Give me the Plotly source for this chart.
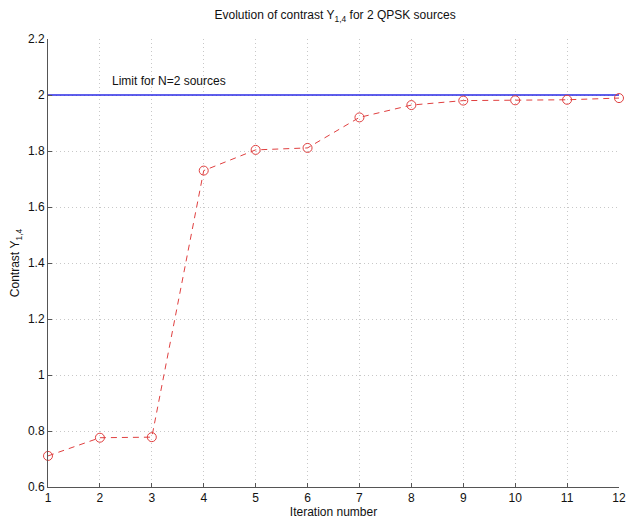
import plotly.graph_objects as go

iterations = [1, 2, 3, 4, 5, 6, 7, 8, 9, 10, 11, 12]
contrast = [0.711, 0.776, 0.778, 1.730, 1.804, 1.811, 1.920, 1.964, 1.980, 1.981, 1.983, 1.989]
limit_x = [1, 12]
limit_y = [2.0, 2.0]
x_ticks = list(range(1, 13))
y_ticks = [0.6, 0.8, 1.0, 1.2, 1.4, 1.6, 1.8, 2.0, 2.2]
y_tick_labels = ["0.6", "0.8", "1", "1.2", "1.4", "1.6", "1.8", "2", "2.2"]

FONT = "Liberation Sans, Arial"

fig = go.Figure()
fig.add_trace(go.Scatter(x=limit_x, y=limit_y, mode="lines",
                         line=dict(color="#2a2ae6", width=1.5), showlegend=False,
                         cliponaxis=False))
fig.add_trace(go.Scatter(x=iterations, y=contrast, mode="lines+markers",
                         line=dict(color="#e04040", width=1, dash="6px,5px"),
                         marker=dict(symbol="circle-open", size=9, color="#e04040",
                                     line=dict(width=1, color="#e04040")),
                         showlegend=False, cliponaxis=False))

fig.add_annotation(x=2.2, y=2.05, text="Limit for N=2 sources", showarrow=False,
                   xanchor="left", yanchor="middle",
                   font=dict(family=FONT, size=12, color="#111"))

axis_common = dict(
    showline=True, linecolor="#555", linewidth=1,
    ticks="inside", ticklen=4, tickcolor="#555",
    showgrid=True, gridcolor="#c8c8c8", griddash="1px,3px", gridwidth=1,
    zeroline=False, mirror=False, automargin=False,
    tickfont=dict(family=FONT, size=12, color="#111"),
)

fig.update_xaxes(range=[1, 12], tickvals=x_ticks,
                 title=dict(text="Iteration number", standoff=0,
                            font=dict(family=FONT, size=12, color="#111")),
                 **axis_common)
fig.update_yaxes(range=[0.6, 2.2], tickvals=y_ticks, ticktext=y_tick_labels,
                 title=dict(text="Contrast Υ<sub>1,4</sub>", standoff=6,
                            font=dict(family=FONT, size=12, color="#111")),
                 **axis_common)

fig.update_layout(
    width=629, height=512,
    margin=dict(l=40, r=18, t=31, b=33, autoexpand=False),
    paper_bgcolor="white", plot_bgcolor="white",
    title=dict(text="Evolution of contrast Υ<sub>1,4</sub> for 2 QPSK sources",
               x=0.52, xanchor="center", y=0.986, yanchor="middle",
               font=dict(family=FONT, size=12, color="#111")),
)

fig.write_html("out.html")
